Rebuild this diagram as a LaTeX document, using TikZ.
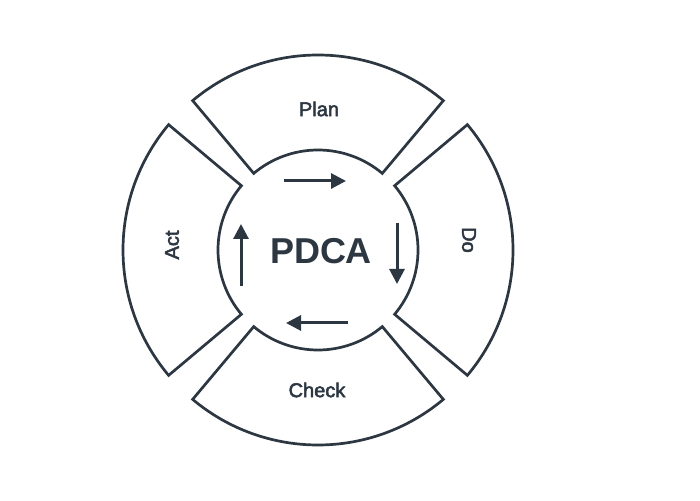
\documentclass[tikz,border=0pt]{standalone}
\usepackage{fontspec}
\setmainfont{Liberation Sans}
\newfontfamily\lblfont[FakeBold=2.5]{Liberation Sans}
\usetikzlibrary{arrows.meta}

\begin{document}
\begin{tikzpicture}[x=1pt,y=1pt,>={Triangle[length=15pt,width=15pt]},font=\lblfont\fontsize{20}{24}\selectfont]
    \definecolor{cS}{RGB}{45,55,66}
    \tikzset{sector/.style={draw=cS,line width=2.7pt,fill=white},
             flow/.style={->,draw=cS,fill=cS,line width=3pt},
             lbl/.style={text=cS}}
    \useasboundingbox (0,0) rectangle (700,500);
    \begin{scope}[shift={(318,250)}]
      % ---------- ring of four sectors ----------
      \draw[sector] (50:100) -- (50:195) arc[start angle=50,end angle=130,radius=195]
        -- (130:100) arc[start angle=130,end angle=50,radius=100] -- cycle;
      \draw[sector] (140:100) -- (140:195) arc[start angle=140,end angle=220,radius=195]
        -- (220:100) arc[start angle=220,end angle=140,radius=100] -- cycle;
      \draw[sector] (230:100) -- (230:195) arc[start angle=230,end angle=310,radius=195]
        -- (310:100) arc[start angle=310,end angle=230,radius=100] -- cycle;
      \draw[sector] (-40:100) -- (-40:195) arc[start angle=-40,end angle=40,radius=195]
        -- (40:100) arc[start angle=40,end angle=-40,radius=100] -- cycle;
      \node[lbl] (plan) at (1,141) {Plan};
      \node[lbl,rotate=-90] (do) at (151,10) {Do};
      \node[lbl] (check) at (-1,-140) {Check};
      \node[lbl,rotate=90] (act) at (-146,5) {Act};
      % ---------- centre and cycle arrows ----------
      \node[lbl,font=\fontsize{36}{40}\selectfont\bfseries] (pdca) at (3,-1) {PDCA};
      \coordinate (tS) at (-34,69);  \coordinate (tE) at (28,69);
      \coordinate (rS) at (79,27);   \coordinate (rE) at (79,-34);
      \coordinate (bS) at (30,-73);  \coordinate (bE) at (-32,-73);
      \coordinate (lS) at (-77,-36); \coordinate (lE) at (-77,26);
      \draw[flow] (tS) -- (tE);
      \draw[flow] (rS) -- (rE);
      \draw[flow] (bS) -- (bE);
      \draw[flow] (lS) -- (lE);
    \end{scope}
\end{tikzpicture}
\end{document}
